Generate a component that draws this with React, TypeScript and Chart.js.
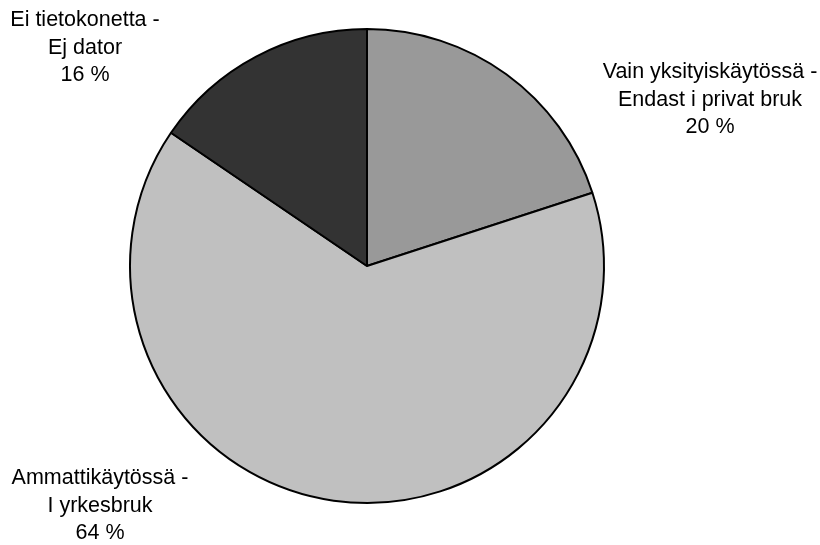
import React, { useEffect, useRef } from "react";
import { Chart, registerables } from "chart.js";

Chart.register(...registerables);

const categories = [
  ["Vain yksityiskäytössä -", "Endast i privat bruk"],
  ["Ammattikäytössä -", "I yrkesbruk"],
  ["Ei tietokonetta -", "Ej dator"],
];
const values = [20.0, 64.5, 15.5];
const percentLabels = ["20 %", "64 %", "16 %"];
const colors = ["#999999", "#c0c0c0", "#333333"];

// label anchor positions (text layout, center of the text block)
const labelPos = [
  { x: 710, y: 100 },
  { x: 100, y: 506 },
  { x: 85, y: 48 },
];

const labelPlugin = {
  id: "outsideLabels",
  afterDraw(chart: any) {
    const ctx = chart.ctx;
    ctx.save();
    ctx.font = "21.5px 'Liberation Sans', Arial, sans-serif";
    ctx.fillStyle = "#000000";
    ctx.textAlign = "center";
    ctx.textBaseline = "middle";
    const lh = 27.5;
    categories.forEach((lines, i) => {
      const all = [...lines, percentLabels[i]];
      const p = labelPos[i];
      const startY = p.y - ((all.length - 1) * lh) / 2;
      all.forEach((t, j) => ctx.fillText(t, p.x, startY + j * lh));
    });
    ctx.restore();
  },
};

export default function App() {
  const ref = useRef<HTMLCanvasElement>(null);
  useEffect(() => {
    const chart = new Chart(ref.current!, {
      type: "pie",
      data: {
        labels: categories.map((c) => c.join(" ")),
        datasets: [
          {
            data: values,
            backgroundColor: colors,
            borderColor: "#000000",
            borderWidth: 2,
            radius: 237,
          } as any,
        ],
      },
      options: {
        responsive: false,
        animation: false,
        layout: { padding: { left: 0, right: 86, top: 0, bottom: 13 } },
        plugins: { legend: { display: false }, tooltip: { enabled: false } },
      },
      plugins: [labelPlugin],
    });
    return () => chart.destroy();
  }, []);
  return (
    <div style={{ position: "fixed", left: 0, top: 0, width: 820, height: 545, background: "#fff" }}>
      <canvas ref={ref} width={820} height={545} style={{ width: 820, height: 545 }} />
    </div>
  );
}
